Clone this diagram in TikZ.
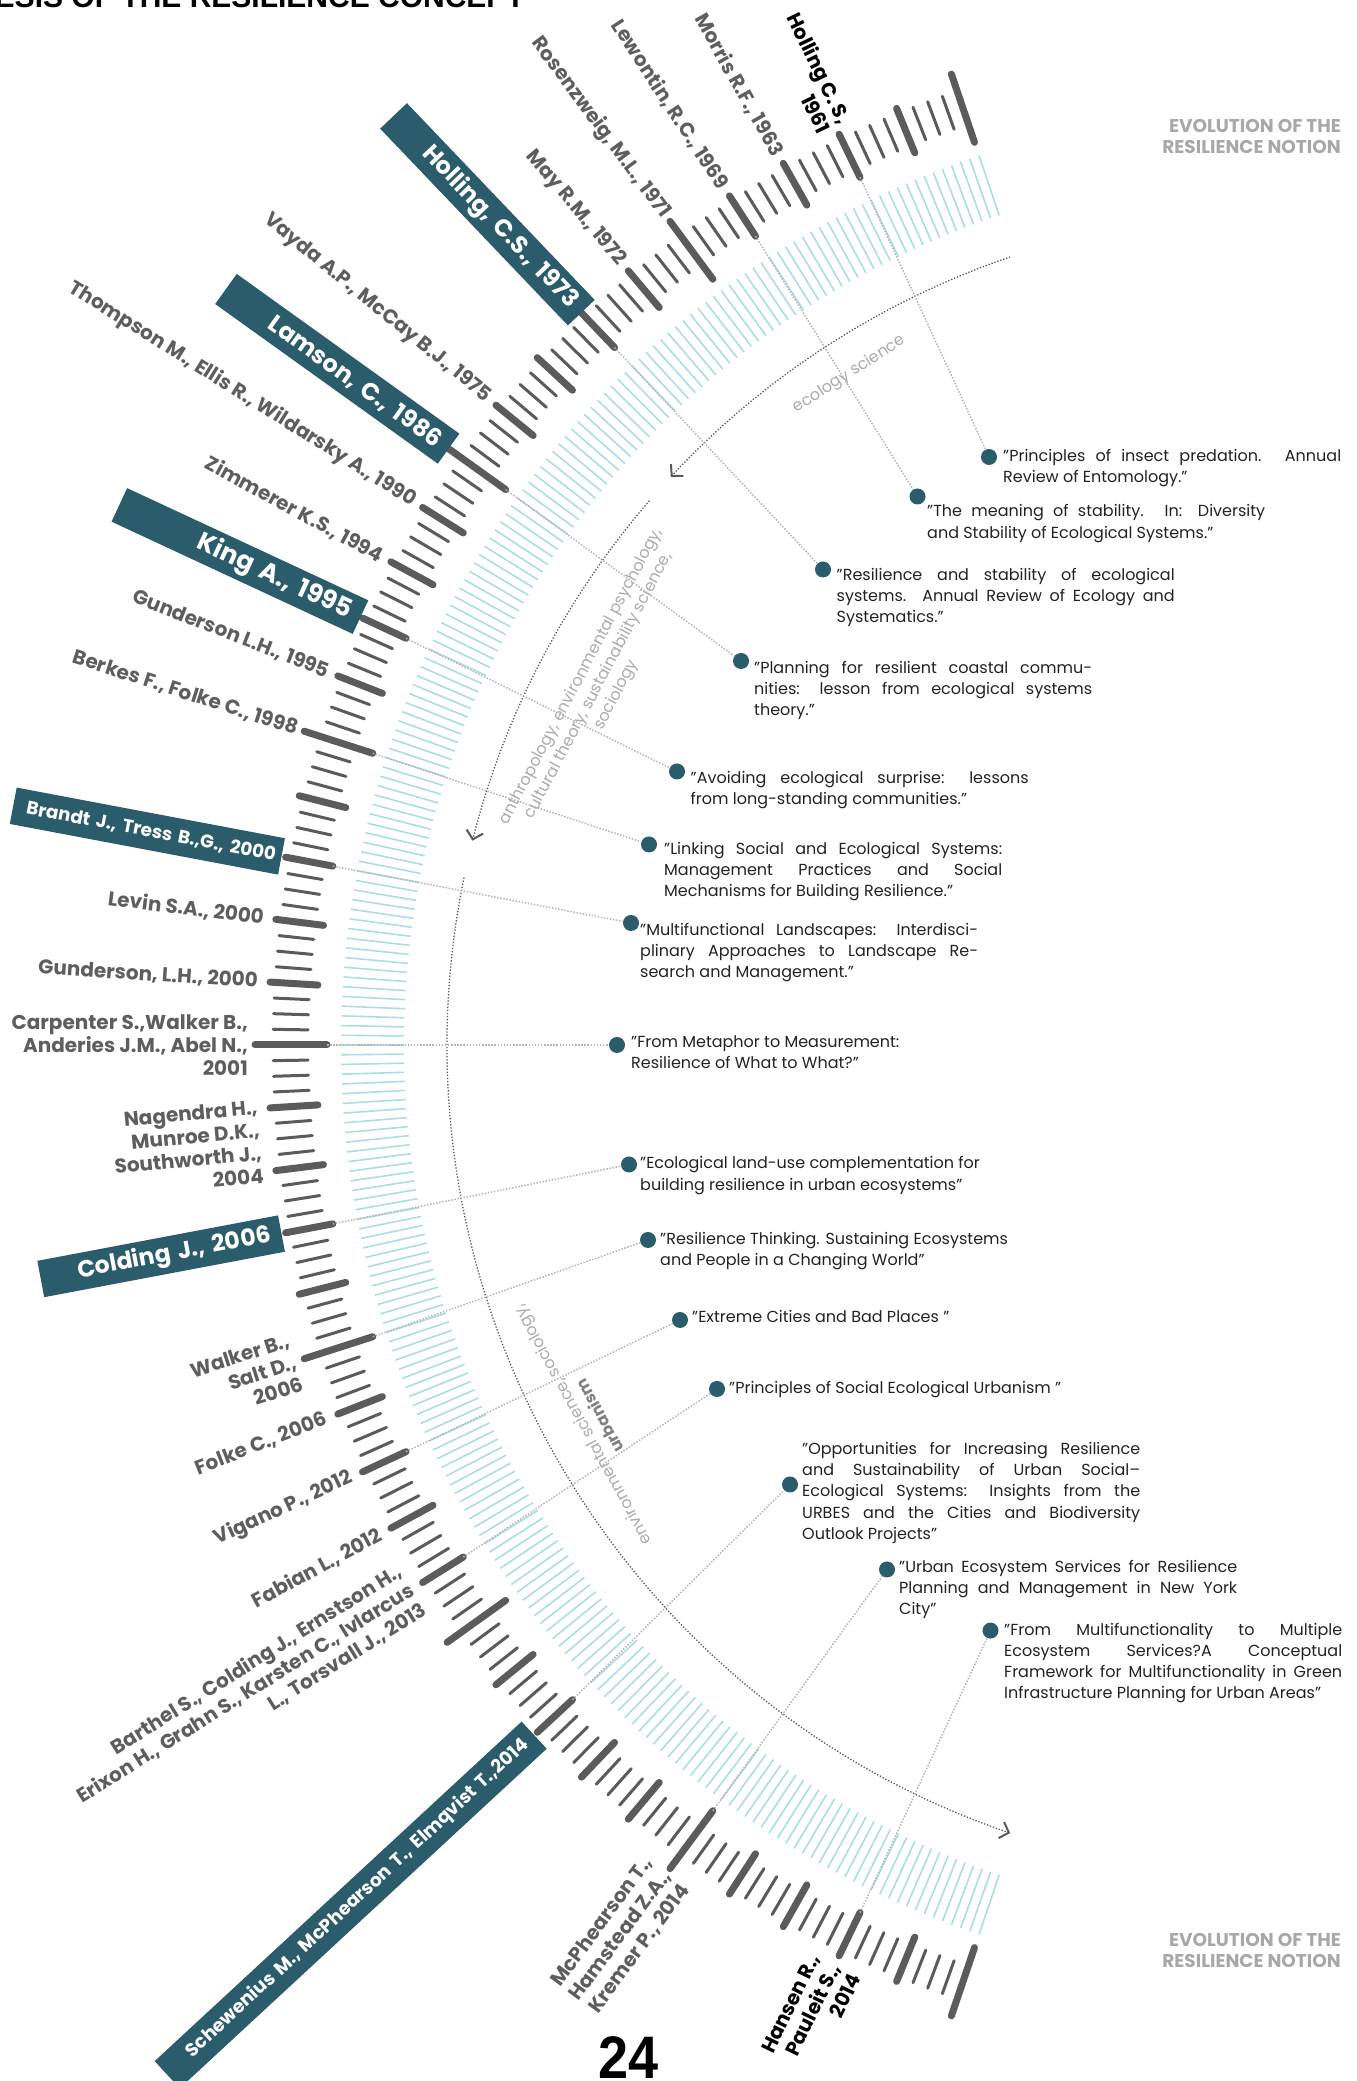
\documentclass[tikz,border=0pt]{standalone}
\usepackage{fontspec}
\setmainfont{Poppins}
\newfontfamily\headfont{Liberation Sans}
\usetikzlibrary{arrows.meta}

\definecolor{boxteal}{HTML}{2B5C6B}
\definecolor{tickgray}{HTML}{5B5B5B}
\definecolor{bandblue}{HTML}{AADDE6}
\definecolor{linkgray}{HTML}{B5B5B5}
\definecolor{namegray}{HTML}{5E5E5E}
\definecolor{fieldgray}{HTML}{ABABAB}
\definecolor{quotegray}{HTML}{222222}
\definecolor{notegray}{HTML}{A8A8A8}

\tikzset{
  bandTick/.style={bandblue, line width=1.6pt},
  thinTick/.style={tickgray, line width=3pt, line cap=round},
  thickTick/.style={tickgray, line width=7pt, line cap=round},
  linkLine/.style={linkgray, line width=1.5pt, dash pattern=on 1.5pt off 1.6pt},
  fieldArc/.style={black!65, line width=1.3pt, dash pattern=on 1.3pt off 1.8pt,
    -{Straight Barb[length=8pt,width=17pt,line width=2pt]}},
  fieldLabel/.style={text=fieldgray, align=center, inner sep=0pt,
    font=\fontsize{16}{20}\selectfont},
  authorLabel/.style={text=namegray, anchor=east, inner sep=0pt, align=right,
    font=\bfseries\fontsize{20}{23}\selectfont},
  authorBox/.style={fill=boxteal, text=white, anchor=east, align=right,
    inner xsep=11pt, inner ysep=0pt, minimum height=37pt},
  quoteDot/.style={circle, fill=boxteal, minimum size=16pt, inner sep=0pt},
  quoteText/.style={anchor=north west, inner sep=0pt, text width=338pt, align=justify,
    text=quotegray, font=\fontsize{16}{21.2}\selectfont},
  quoteLeft/.style={anchor=north west, inner sep=0pt, align=left,
    text=quotegray, font=\fontsize{16}{21.2}\selectfont}
}

\begin{document}
\begin{tikzpicture}[x=1pt,y=1pt]
  \useasboundingbox (0,0) rectangle (1357,2081);
  \clip (0,0) rectangle (1357,2081);
  % \draw[step=100,thin,gray!40] (0,0) grid (1357,2081);

  % title cut by the page
  \node[anchor=base east, inner sep=0pt, font=\headfont\bfseries\fontsize{30}{32}\selectfont] (titleNode) at (525,2073) {GENESIS OF THE RESILIENCE CONCEPT};
  \node[anchor=north east, inner sep=0pt, align=right, text=notegray, font=\bfseries\fontsize{18.5}{21}\selectfont] (noteTopNode) at (1341,1962) {EVOLUTION OF THE\\RESILIENCE NOTION};
  \node[anchor=north east, inner sep=0pt, align=right, text=notegray, font=\bfseries\fontsize{18.5}{21}\selectfont] (noteBottomNode) at (1341,148) {EVOLUTION OF THE\\RESILIENCE NOTION};
  \node[anchor=base, inner sep=0pt, xscale=0.9, font=\headfont\bfseries\fontsize{60}{60}\selectfont] (pageNode) at (629,2) {24};

  \begin{scope}[shift={(1280,1036)}]
    % light blue band
    \foreach \i in {0,...,240}
      \draw[bandTick] ({108.7+0.5942*\i}:876) -- ({108.7+0.5942*\i}:939);

    % time ticks
    \foreach \i in {0,...,160}{
      \pgfmathsetmacro{\a}{108.7+0.89125*\i}
      \pgfmathtruncatemacro{\m}{mod(\i,4)}
      \pgfmathtruncatemacro{\n}{mod(\i,20)}
      \ifnum\n=0
        \draw[thickTick] (\a:953) -- (\a:1025);
        \coordinate (tick\i) at (\a:953);
      \else\ifnum\m=0
        \draw[thickTick] (\a:964) -- (\a:1012);
        \coordinate (tick\i) at (\a:964);
      \else
        \draw[thinTick] (\a:972) -- (\a:1007);
      \fi\fi
    }

    % fields of study
    \draw[fieldArc] (108.9:833) arc[start angle=108.9, end angle=137.0, radius=833];
    \draw[fieldArc] (139.2:833) arc[start angle=139.2, end angle=165.8, radius=833];
    \draw[fieldArc] (168.4:833) arc[start angle=168.4, end angle=251.1, radius=833];
    \node[fieldLabel, rotate=32.7] (ecologyNode) at (122.7:797) {ecology science};
    \node[fieldLabel, rotate=62.2] (socialNode) at (152.2:770) {anthropology, environmental psychology,\\cultural theory, sustainability science,\\sociology};
    \node[fieldLabel, rotate=118.6] (urbanNode) at (208.6:785) {environmental science, sociology,\\\textcolor{black!50}{\textbf{urbanism}}};

    % authors
    \node[authorLabel, text=black, rotate=-64.17] (hollingANode) at (115.83:1020) {Holling C. S,\\1961};
    \node[authorLabel, rotate=-60.6] (morrisNode) at (119.395:1022) {Morris R.F., 1963};
    \node[authorLabel, rotate=-57.04] (lewontinNode) at (122.96:1022) {Lewontin, R.C., 1969};
    \node[authorLabel, rotate=-53.475] (rosenzweigNode) at (126.525:1032) {Rosenzweig, M.L., 1971};
    \node[authorLabel, rotate=-49.91] (mayNode) at (130.09:1022) {May R.M., 1972};
    \node[authorBox, rotate=-46.345, text width=250pt, font=\bfseries\fontsize{24}{26}\selectfont] (hollingBNode) at (133.655:1012) {Holling, C.S., 1973};
    \node[authorLabel, rotate=-39.215] (vaydaNode) at (140.785:1022) {Vayda A.P., McCay B.J., 1975};
    \node[authorBox, rotate=-35.65, text width=252pt, font=\bfseries\fontsize{24}{26}\selectfont] (lamsonNode) at (144.35:1023) {Lamson, C., 1986};
    \node[authorLabel, rotate=-32.085] (thompsonNode) at (147.915:1022) {Thompson M., Ellis R., Wildarsky A., 1990};
    \node[authorLabel, rotate=-28.52] (zimmererNode) at (151.48:1022) {Zimmerer K.S., 1994};
    \node[authorBox, rotate=-24.955, text width=244pt, font=\bfseries\fontsize{25.5}{27}\selectfont] (kingNode) at (155.045:1014) {King A., 1995};
    \node[authorLabel, rotate=-21.39] (gundersonANode) at (158.61:1022) {Gunderson L.H., 1995};
    \node[authorLabel, rotate=-17.825] (berkesNode) at (162.175:1032) {Berkes F., Folke C., 1998};
    \node[authorBox, rotate=-10.695, inner xsep=6pt, text width=261pt, font=\bfseries\fontsize{18.3}{21}\selectfont] (brandtNode) at (169.305:1016) {Brandt J., Tress B.,G., 2000};
    \node[authorLabel, rotate=-7.13] (levinNode) at (172.87:1024) {Levin S.A., 2000};
    \node[authorLabel, rotate=-3.565] (gundersonBNode) at (176.435:1024) {Gunderson, L.H., 2000};
    \node[authorLabel] (carpenterNode) at (180:1032) {Carpenter S.,Walker B.,\\Anderies J.M., Abel N.,\\2001};
    \node[authorLabel, rotate=5.35] (nagendraNode) at (185.4:1024) {Nagendra H.,\\Munroe D.K.,\\Southworth J.,\\2004};
    \node[authorBox, rotate=10.695, text width=223pt, font=\bfseries\fontsize{23.5}{26}\selectfont] (coldingNode) at (190.695:1016) {Colding J., 2006};
    \node[authorLabel, rotate=17.825] (walkerNode) at (197.825:1034) {Walker B.,\\Salt D.,\\2006};
    \node[authorLabel, rotate=21.39] (folkeNode) at (201.39:1024) {Folke C., 2006};
    \node[authorLabel, rotate=24.955] (viganoNode) at (204.955:1024) {Vigano P., 2012};
    \node[authorLabel, rotate=28.52] (fabianNode) at (208.52:1024) {Fabian L., 2012};
    \node[authorLabel, rotate=32.085] (barthelNode) at (212.085:1024) {Barthel S., Colding J., Ernstson H.,\\Erixon H., Grahn S., Karsten C., Ivlarcus\\L., Torsvall J., 2013};
    \node[authorBox, rotate=42.78, text width=478pt, font=\bfseries\fontsize{18.5}{21}\selectfont] (scheweniusNode) at (222.78:1016) {Schewenius M., McPhearson T., Elmqvist T.,2014};
    \node[authorLabel, rotate=53.475] (mcphearsonNode) at (233.475:1030) {McPhearson T.,\\Hamstead Z.A.,\\Kremer P., 2014};
    \node[authorLabel, text=black, rotate=64.17] (hansenNode) at (244.17:1022) {Hansen R.,\\Pauleit S.,\\2014};
  \end{scope}

  % titles of the works
  \node[quoteDot] (dotANode) at (989,1624) {};
  \node[quoteText] (quoteANode) at (1003,1632) {"Principles of insect predation. Annual\linebreak Review of Entomology."};
  \node[quoteDot] (dotBNode) at (917.5,1584.5) {};
  \node[quoteText] (quoteBNode) at (927,1576.5) {"The meaning of stability. In: Diversity\linebreak and Stability of Ecological Systems."};
  \node[quoteDot] (dotCNode) at (823,1511.5) {};
  \node[quoteText] (quoteCNode) at (836.5,1513) {"Resilience and stability of ecological\linebreak systems. Annual Review of Ecology and\linebreak Systematics."};
  \node[quoteDot] (dotDNode) at (741,1420) {};
  \node[quoteText] (quoteDNode) at (754,1420) {"Planning for resilient coastal commu-\linebreak nities: lesson from ecological systems\linebreak theory."};
  \node[quoteDot] (dotENode) at (677,1309.5) {};
  \node[quoteText] (quoteENode) at (690.5,1309.6) {"Avoiding ecological surprise: lessons\linebreak from long-standing communities."};
  \node[quoteDot] (dotFNode) at (649,1236.5) {};
  \node[quoteText] (quoteFNode) at (664,1239.2) {"Linking Social and Ecological Systems:\linebreak Management Practices and Social\linebreak Mechanisms for Building Resilience."};
  \node[quoteDot] (dotGNode) at (631,1158) {};
  \node[quoteText] (quoteGNode) at (640,1158.2) {"Multifunctional Landscapes: Interdisci-\linebreak plinary Approaches to Landscape Re-\linebreak search and Management."};
  \node[quoteDot] (dotHNode) at (617,1036) {};
  \node[quoteLeft] (quoteHNode) at (631,1045.3) {"From Metaphor to Measurement:\\Resilience of What to What?"};
  \node[quoteDot] (dotINode) at (629,916.5) {};
  \node[quoteLeft] (quoteINode) at (640,924.5) {"Ecological land-use complementation for\\building resilience in urban ecosystems"};
  \node[quoteDot] (dotJNode) at (648,841) {};
  \node[quoteLeft] (quoteJNode) at (660,849) {"Resilience Thinking. Sustaining Ecosystems\\and People in a Changing World"};
  \node[quoteDot] (dotKNode) at (680,761) {};
  \node[quoteLeft] (quoteKNode) at (692,770.5) {"Extreme Cities and Bad Places "};
  \node[quoteDot] (dotLNode) at (717,692) {};
  \node[quoteLeft] (quoteLNode) at (729,700) {"Principles of Social Ecological Urbanism "};
  \node[quoteDot] (dotMNode) at (790,596.5) {};
  \node[quoteText] (quoteMNode) at (802,639) {"Opportunities for Increasing Resilience\linebreak and Sustainability of Urban Social--\linebreak Ecological Systems: Insights from the\linebreak URBES and the Cities and Biodiversity\linebreak Outlook Projects"};
  \node[quoteDot] (dotNNode) at (887,511.5) {};
  \node[quoteText] (quoteNNode) at (899,521) {"Urban Ecosystem Services for Resilience\linebreak Planning and Management in New York\linebreak City"};
  \node[quoteDot] (dotONode) at (990.5,450.4) {};
  \node[quoteText] (quoteONode) at (1004,458.4) {"From Multifunctionality to Multiple\linebreak Ecosystem Services?A Conceptual\linebreak Framework for Multifunctionality in Green\linebreak Infrastructure Planning for Urban Areas"};

  % links from the ticks to the works
  \draw[linkLine] (tick8) -- (dotANode);
  \draw[linkLine] (tick16) -- (dotBNode);
  \draw[linkLine] (tick28) -- (dotCNode);
  \draw[linkLine] (tick40) -- (dotDNode);
  \draw[linkLine] (tick52) -- (dotENode);
  \draw[linkLine] (tick60) -- (dotFNode);
  \draw[linkLine] (tick68) -- (dotGNode);
  \draw[linkLine] (tick80) -- (dotHNode);
  \draw[linkLine] (tick92) -- (dotINode);
  \draw[linkLine] (tick100) -- (dotJNode);
  \draw[linkLine] (tick108) -- (dotKNode);
  \draw[linkLine] (tick116) -- (dotLNode);
  \draw[linkLine] (tick128) -- (dotMNode);
  \draw[linkLine] (tick140) -- (dotNNode);
  \draw[linkLine] (tick152) -- (dotONode);
\end{tikzpicture}
\end{document}
